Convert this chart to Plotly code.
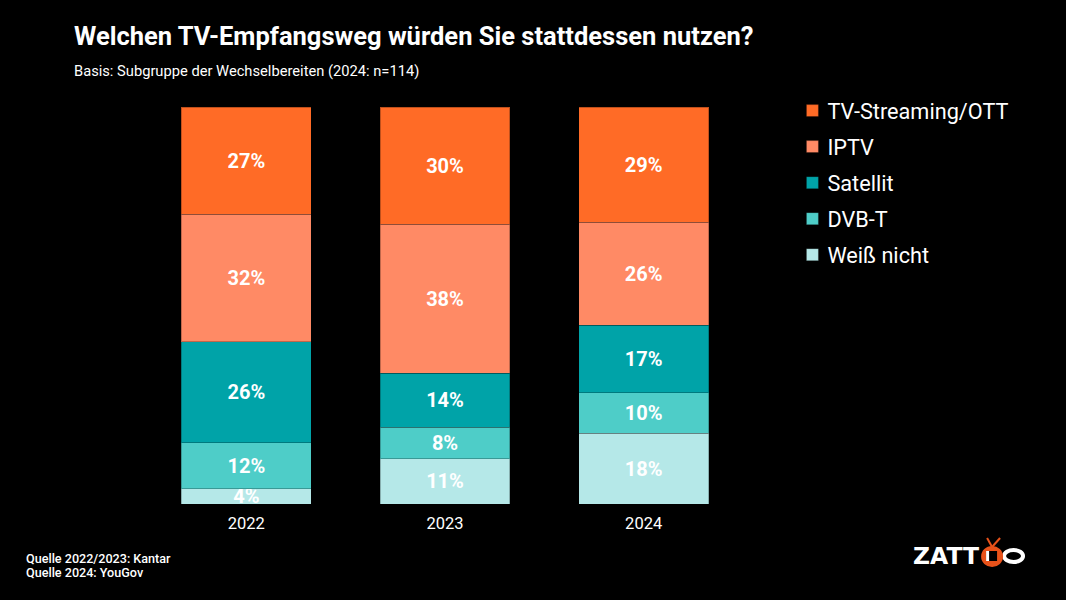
import plotly.graph_objects as go

years = ["2022", "2023", "2024"]
weiss_nicht = [3.8, 11.4, 17.8]
dvb_t = [11.6, 8.0, 10.2]
satellit = [25.5, 13.6, 17.0]
iptv = [32.2, 37.6, 26.0]
streaming = [27.0, 29.5, 29.0]

series = [
    ("Weiß nicht", weiss_nicht, "#B5E8E8", 5),
    ("DVB-T", dvb_t, "#4ECDC8", 4),
    ("Satellit", satellit, "#00A3A8", 3),
    ("IPTV", iptv, "#FF8A65", 2),
    ("TV-Streaming/OTT", streaming, "#FF6B26", 1),
]

W, H = 1066, 600
L, R, T, B = 146.5, 743.5, 107, 504
px = lambda x: (x - L) / (R - L)
py = lambda y: (B - y) / (B - T)

fig = go.Figure()
for name, vals, col, rank in series:
    fig.add_bar(
        name=name, x=years, y=vals, legendgroup=name, legendrank=rank,
        marker=dict(color=col, line=dict(color="rgba(0,0,0,0.25)", width=1)),
        text=[f"{v:.0f}%" for v in vals], textposition="inside", insidetextanchor="middle",
        constraintext="none", textangle=0,
        textfont=dict(family="Roboto", size=20, color="#FFFFFF", weight=700),
        hoverinfo="skip",
    )

fig.update_layout(
    width=W, height=H, autosize=False,
    paper_bgcolor="#000000", plot_bgcolor="#000000",
    barmode="stack", barnorm="percent", bargap=0.347,
    showlegend=True,
    font=dict(family="Roboto", color="#FFFFFF"),
    margin=dict(l=L, r=W - R, t=T, b=H - B, autoexpand=False),
    xaxis=dict(type="category", showgrid=False, zeroline=False, showline=False, ticks="",
               ticklabelstandoff=7,
               tickfont=dict(family="Roboto", size=16.5, color="#FFFFFF")),
    yaxis=dict(range=[0, 100], visible=False),
    legend=dict(
        x=px(788), y=py(90), xref="paper", yref="paper", xanchor="left", yanchor="top",
        traceorder="grouped", tracegroupgap=4.8, bgcolor="rgba(0,0,0,0)",
        font=dict(family="Roboto", size=21.7, color="#FFFFFF"), itemclick=False, itemdoubleclick=False,
    ),
    title=dict(text="Welchen TV-Empfangsweg würden Sie stattdessen nutzen?",
               xref="container", yref="container", x=74 / W, xanchor="left",
               y=1 - 36 / H, yanchor="middle",
               font=dict(family="Roboto", size=25.5, color="#FFFFFF", weight=700)),
)

def page_text(x, y, text, size, family="Roboto", **kw):
    fig.add_annotation(xref="paper", yref="paper", x=px(x), y=py(y), text=text, showarrow=False,
                       xanchor="left", yanchor="middle", align="left",
                       font=dict(family=family, size=size, color="#FFFFFF", **kw))

page_text(71, 71, "Basis: Subgruppe der Wechselbereiten (2024: n=114)", 14.7)
page_text(23, 558, "Quelle 2022/2023: Kantar", 12.6, weight=500)
page_text(23, 572, "Quelle 2024: YouGov", 12.6, weight=500)

# logo
page_text(912, 556, "ZATT", 23.5, family="DejaVu Sans", weight=700)
ORANGE = "#E8521A"
fig.add_shape(type="circle", xref="paper", yref="paper",
              x0=px(1005), x1=px(1024), y0=py(562), y1=py(550),
              fillcolor="rgba(0,0,0,0)", line=dict(color="#FFFFFF", width=4))
fig.add_shape(type="circle", xref="paper", yref="paper",
              x0=px(982), x1=px(1004), y0=py(567), y1=py(546),
              fillcolor=ORANGE, line=dict(width=0))
fig.add_shape(type="line", xref="paper", yref="paper",
              x0=px(993), x1=px(988), y0=py(547), y1=py(538),
              line=dict(color=ORANGE, width=2))
fig.add_shape(type="line", xref="paper", yref="paper",
              x0=px(993), x1=px(1001), y0=py(547), y1=py(538),
              line=dict(color=ORANGE, width=2))
fig.add_shape(type="rect", xref="paper", yref="paper",
              x0=px(987), x1=px(998), y0=py(561), y1=py(551),
              fillcolor="#000000", line=dict(width=0))
fig.add_shape(type="rect", xref="paper", yref="paper",
              x0=px(987), x1=px(990), y0=py(561), y1=py(551),
              fillcolor="#FFFFFF", line=dict(width=0))

post = """
document.documentElement.style.background='#000';
document.body.style.margin='0';
document.body.style.background='#000';
document.body.style.overflow='hidden';
document.querySelectorAll('.legendsymbols').forEach(function(el){
  el.setAttribute('transform','translate(5,0)');
});
"""
fig.write_html("out.html", config=dict(displayModeBar=False), post_script=post)
